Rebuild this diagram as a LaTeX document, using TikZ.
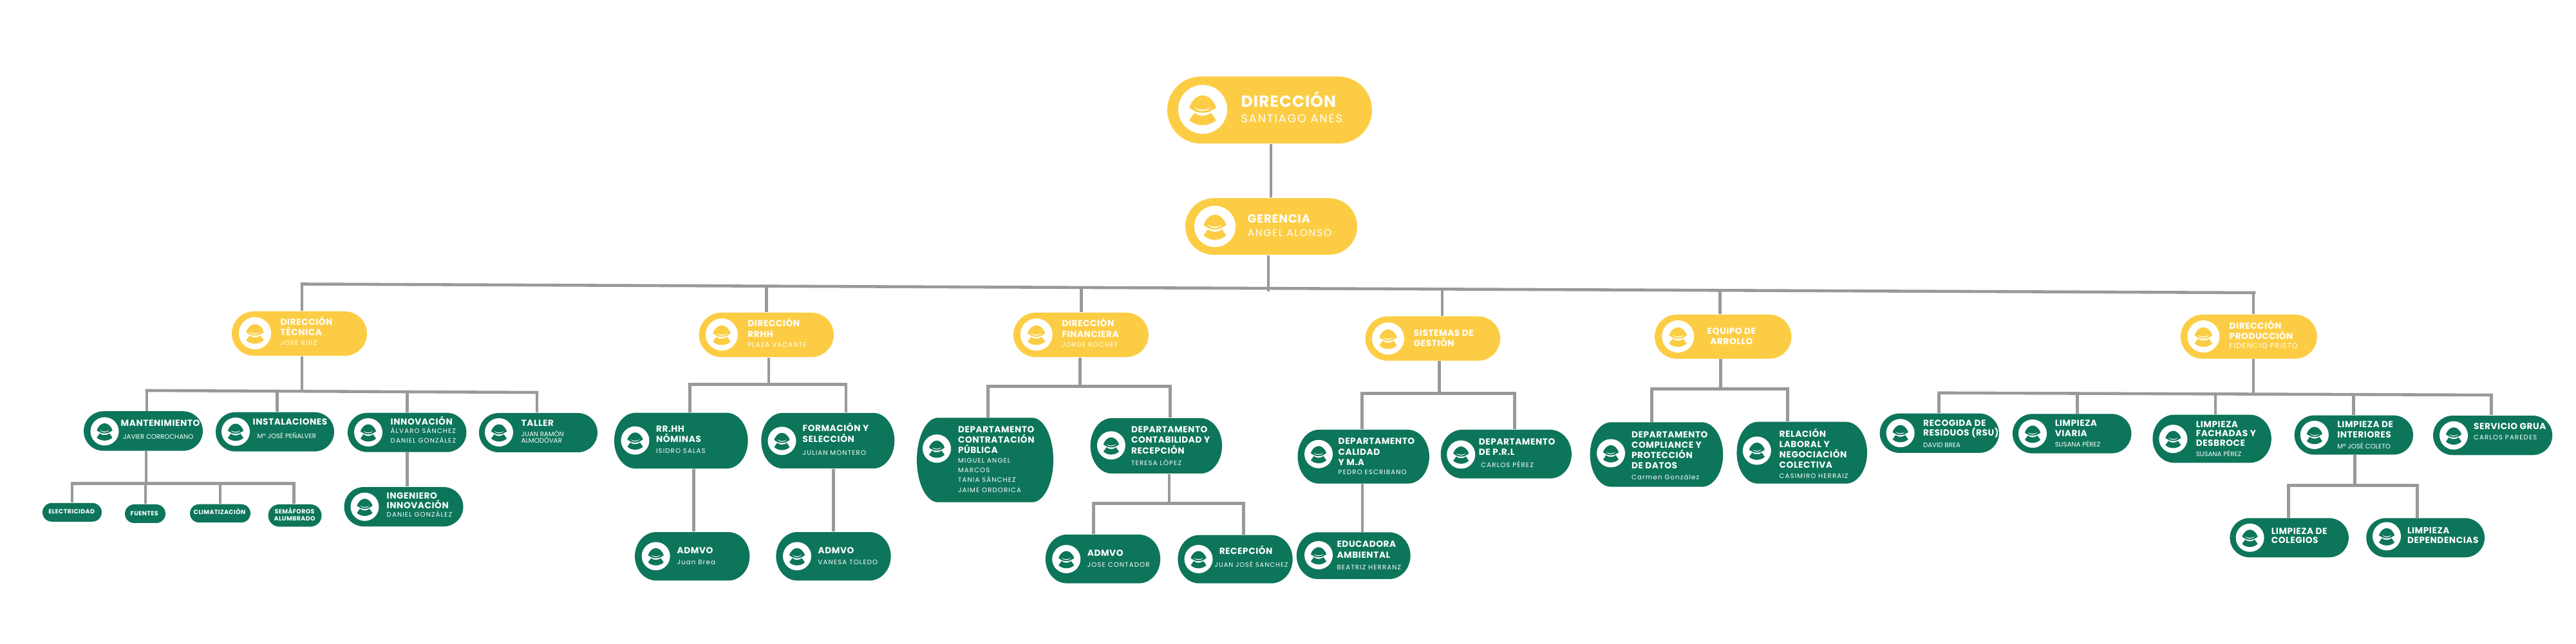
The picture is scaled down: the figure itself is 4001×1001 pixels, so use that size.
\documentclass[tikz,border=0pt]{standalone}
\usepackage{fontspec}
\setmainfont[LetterSpace=4]{Poppins}
\newfontfamily\namefont[LetterSpace=11]{Poppins}
\newfontfamily\tightfont{Poppins}
\newcommand{\nm}[1][2.9]{\namefont\mdseries\fontsize{#1}{#1}\selectfont}
\newcommand{\nmt}{\tightfont\mdseries\fontsize{2.9}{2.9}\selectfont}
\definecolor{orggold}{HTML}{FCCD44}
\definecolor{orggreen}{HTML}{0D755A}
\definecolor{orgwire}{HTML}{999999}
\begin{document}
\begin{tikzpicture}[x=0.01cm, y=-0.01cm,
    wire/.style={draw=orgwire, line width=1.3pt},
    orgbox/.style={rectangle, inner sep=0pt, minimum width=#1},
    lbl/.style={anchor=base west, align=left, inner sep=0pt, text=white, font=\bfseries\fontsize{3.9}{4.6}\selectfont},
    lblsmall/.style={lbl, align=center, font=\bfseries\fontsize{2.7}{3.13}\selectfont},
    worker/.pic={
        \fill[white] (0,0) circle (1);
        \fill[pic actions] (-.55,-.06) .. controls (-.45,-.4) and (-.2,-.57) .. (0,-.57) .. controls (.2,-.57) and (.45,-.4) .. (.55,-.06) -- (.27,.1) .. controls (.1,.16) and (-.1,.16) .. (-.27,.1) -- cycle;
        \fill[white] (-.33,-.1) .. controls (-.25,.12) and (.25,.12) .. (.33,-.1) .. controls (.22,.05) and (-.22,.05) .. (-.33,-.1) -- cycle;
        \fill[pic actions] (-.55,.44) -- (-.34,.14) .. controls (-.15,.3) and (.15,.3) .. (.34,.14) -- (.55,.44) .. controls (.25,.72) and (-.25,.72) .. (-.55,.44) -- cycle;
    }]

    \useasboundingbox (0,0) rectangle (4001,1001);

    % Boxes, yellow
    \foreach \id/\x/\y/\w/\h [evaluate=\h as \ry using {0.5*\h}] in {
        direccion/1972/171/318/104, gerencia/1974.5/352/267/88,
        tecnica/465/518.5/210/69, rrhh/1190.3/520.5/209.3/69,
        financiera/1679/520.5/209.8/69, sistemas/2225.4/526.2/209.5/69,
        equipo/2676.2/523.3/212.4/68.7, produccion/3492.8/523.3/211.9/68.7} {
        \node[orgbox=\w*0.01cm, minimum height=\h*0.01cm] (\id) at (\x,\y) {};
        \fill[orggold] ({\x+0.5*\w-\ry},{\y-\ry}) arc[start angle=-90, delta angle=180, x radius=\ry, y radius=\ry]
            -- ({\x-0.5*\w+\ry},{\y+\ry}) arc[start angle=90, delta angle=180, x radius=\ry, y radius=\ry] -- cycle;
    }

    % Boxes, green
    \foreach \id/\x/\y/\w/\h [evaluate=\h as \ry using {0.5*\h}, evaluate=\h as \rx using {min(0.5*\h,33)}] in {
        mantenimiento/222.5/670/185/61.5, instalaciones/427/671.2/184/61,
        innovacion/632.2/672.2/184.5/61, taller/836/672.5/184/61,
        electricidad/112/796.3/92/29, fuentes/225.5/798.5/63/29,
        climatizacion/342/798/94/28.5, semaforos/458/801.3/83/34.7,
        ingeniero/627/787.7/185/61.3, nominas/1057.8/685/207.7/86.7,
        formacion/1285.8/685/207/86.3, admvoA/1075.2/864.7/178.3/75.3,
        admvoB/1294.5/864.7/178.3/75.3, contratacion/1530/715/212/131.4,
        contabilidad/1795.8/693/204.4/86, admvoC/1713/868.8/178.3/75.7,
        recepcion/1918.5/869.2/178.3/75, calidad/2117.7/709.8/204.4/83.7,
        prl/2339.3/705.8/203.2/75.7, educadora/2102.2/863.7/176.8/72.7,
        compliance/2572.9/706.5/206.6/100.4, relacion/2798.7/703.7/202.6/96,
        recogida/3012.2/673.3/185.2/61.3, viaria/3218.1/674/184.5/61.3,
        fachadas/3435.6/682/184.4/74.6, interiores/3655.8/676.2/184.4/61,
        grua/3871.6/676.7/185.2/61.3, colegios/3555.6/835.8/184.5/61,
        dependencias/3767.1/835.8/183.8/61} {
        \node[orgbox=\w*0.01cm, minimum height=\h*0.01cm] (\id) at (\x,\y) {};
        \fill[orggreen] ({\x+0.5*\w-\rx},{\y-\ry}) arc[start angle=-90, delta angle=180, x radius=\rx, y radius=\ry]
            -- ({\x-0.5*\w+\rx},{\y+\ry}) arc[start angle=90, delta angle=180, x radius=\rx, y radius=\ry] -- cycle;
    }

    % Icons
    \foreach \x/\y/\rad in {1868/170/38, 1887/352/32, 396/518/25, 1121/520/25,
        1609.7/520/25, 2156/526.2/25, 2606.2/523/25, 3422.3/523/25} {
        \pic[scale=\rad, fill=orggold] at (\x,\y) {worker};
    }
    \foreach \x/\y in {162.5/670.5, 366/671, 572/672, 775/672, 566.5/787.7, 986.5/684.7,
        1214.5/685.3, 1018.7/864.5, 1238/864.5, 1455/697.3, 1725.9/692.3, 1656.2/869,
        1861.5/869, 2048/705.8, 2269.2/706.5, 2048/863, 2502/704.5, 2728.8/700.5,
        2951.6/673.2, 3157/674, 3375.3/682.2, 3594.8/676, 3811/676.8, 3494.5/835.8, 3707/833.5} {
        \pic[scale=22, fill=orggreen] at (\x,\y) {worker};
    }

    % Bars
    \foreach \bar/\xa/\ya/\xb/\yb in {main/469/441.5/3501/455, tec/228/607/834/610,
        man/112/751.7/456.6/751.7, rh/1071.3/597.5/1314/597.5, fin/1534.3/600.7/1817.5/600.7,
        con/1698.5/782.5/1931.2/782.5, sis/2115.4/611.7/2352.5/611.7,
        equ/2565.4/604.7/2776.7/604.7, pro/3011.5/610.7/3869.5/614,
        int/3554.5/754.3/3754.4/754.3} {
        \coordinate (\bar L) at (\xa,\ya);
        \coordinate (\bar R) at (\xb,\yb);
        \draw[wire, line cap=rect] (\bar L) -- (\bar R);
    }

    % Lines from a box down to its bar
    \foreach \a/\xx/\yy in {gerencia/1970/452.7, tecnica/469/608.2, mantenimiento/227/751.7,
        rrhh/1194/597.5, financiera/1677.5/600.7, contabilidad/1816/782.5,
        sistemas/2235.4/611.7, equipo/2672.2/604.7, produccion/3499.8/612.3,
        interiores/3657.6/754.3} {
        \coordinate (foot\a) at (\xx,\yy);
        \draw[wire] (foot\a |- \a.south) -- (foot\a);
    }

    % Lines from a bar down to a box
    \foreach \b/\xx/\yy in {tecnica/469/441.5, rrhh/1190.7/444.7, financiera/1679.7/446.9,
        sistemas/2240/449.4, equipo/2671.6/451.3, produccion/3500/455,
        mantenimiento/228/607, instalaciones/430.5/608, innovacion/632.6/609, taller/834/610,
        electricidad/112/751.7, fuentes/226/751.7, climatizacion/342/751.7, semaforos/456.6/751.7,
        nominas/1071.3/597.5, formacion/1314/597.5, contratacion/1534.3/600.7, contabilidad/1817.5/600.7,
        admvoC/1698.5/782.5, recepcion/1931.2/782.5, calidad/2115.4/611.7, prl/2352.5/611.7,
        compliance/2565.4/604.7, relacion/2776.7/604.7,
        recogida/3011.5/610.7, viaria/3226.2/611.5, fachadas/3440.9/612.4, interiores/3655.5/613.2, grua/3869.5/614,
        colegios/3554.5/754.3, dependencias/3754.4/754.3} {
        \coordinate (top\b) at (\xx,\yy);
        \draw[wire] (top\b) -- (top\b |- \b.north);
    }

    % Lines from box to box
    \foreach \a/\b/\xx in {direccion/gerencia/1974, innovacion/ingeniero/632.6,
        nominas/admvoA/1077.3, formacion/admvoB/1294.3, calidad/educadora/2116} {
        \coordinate (link\b) at (\xx,0);
        \draw[wire] (link\b |- \a.south) -- (link\b |- \b.north);
    }

    % Top
    \node[lbl, font=\bfseries\fontsize{7.1}{7.1}\selectfont] (direccionT) at (1927,191) {DIRECCIÓN\\{\nm[5]SANTIAGO ANES}};
    \node[lbl, font=\bfseries\fontsize{5.2}{6}\selectfont] (gerenciaT) at (1937,368) {GERENCIA\\{\nm[4.4]ANGEL ALONSO}};

    % Direcciones
    \node[lbl] (tecnicaT) at (435,537) {DIRECCIÓN\\TÉCNICA\\[-0.3pt]{\nm JOSE RUIZ}};
    \node[lbl] (rrhhT) at (1160.7,539.3) {DIRECCIÓN\\RRHH\\[-0.3pt]{\nm PLAZA VACANTE}};
    \node[lbl] (financieraT) at (1648.8,539.3) {DIRECCIÓN\\FINANCIERA\\[-0.3pt]{\nm JORGE ROCHET}};
    \node[lbl] (sistemasT) at (2195.2,539) {SISTEMAS DE\\GESTIÓN};
    \node[lbl, align=center] (equipoT) at (2651,536) {EQUIPO DE\\ARROLLO};
    \node[lbl] (produccionT) at (3461.9,542) {DIRECCIÓN\\PRODUCCIÓN\\[-0.4pt]{\nm[3.2]FIDENCIO PRIETO}};

    % Tecnica
    \node[lbl] (mantenimientoT) at (187,683) {MANTENIMIENTO\\[1.1pt]{\nmt\hspace*{1pt}JAVIER CORROCHANO}};
    \node[lbl] (instalacionesT) at (392,682) {INSTALACIONES\\[1.65pt]{\nmt\hspace*{2pt}Mº JOSÉ PEÑALVER}};
    \node[lbl] (innovacionT) at (606,689) {INNOVACIÓN\\[-0.8pt]{\nm ÁLVARO SÁNCHEZ}\\[-0.3pt]{\nm DANIEL GONZÁLEZ}};
    \node[lbl] (tallerT) at (809,689) {TALLER\\{\nmt JUAN RAMÓN}\\[-1.75pt]{\nmt ALMODÓVAR}};
    \node[lblsmall] (electricidadT) at (74.6,799) {ELECTRICIDAD};
    \node[lblsmall] (fuentesT) at (202,801) {FUENTES};
    \node[lblsmall] (climatizacionT) at (300,800) {CLIMATIZACIÓN};
    \node[lblsmall] (semaforosT) at (425,810) {SEMÁFOROS\\ALUMBRADO};
    \node[lbl] (ingenieroT) at (600,804) {INGENIERO\\[-0.3pt]INNOVACIÓN\\[-0.8pt]{\nm DANIEL GONZÁLEZ}};

    % RRHH
    \node[lbl] (nominasT) at (1018.3,705) {RR.HH\\NÓMINAS\\[0.3pt]{\nm ISIDRO SALAS}};
    \node[lbl] (formacionT) at (1246,707.3) {FORMACIÓN Y\\SELECCIÓN\\[1.15pt]{\nm JULIAN MONTERO}};
    \node[lbl] (admvoAT) at (1051,877.7) {ADMVO\\[0.4pt]{\nm Juan Brea}};
    \node[lbl] (admvoBT) at (1270,877.7) {ADMVO\\[0.4pt]{\nm VANESA TOLEDO}};

    % Financiera
    \node[lbl] (contratacionT) at (1487.3,765) {DEPARTAMENTO\\CONTRATACIÓN\\PÚBLICA\\[-0.3pt]{\nm MIGUEL ANGEL}\\[-0.3pt]{\nm MARCOS}\\[-0.3pt]{\nm TANIA SÁNCHEZ}\\[-0.3pt]{\nm JAIME ORDORICA}};
    \node[lbl] (contabilidadT) at (1756.3,724) {DEPARTAMENTO\\CONTABILIDAD Y\\RECEPCIÓN\\[0.8pt]{\nm TERESA LÓPEZ}};
    \node[lbl] (admvoCT) at (1688.2,881.7) {ADMVO\\[0.4pt]{\nm JOSE CONTADOR}};
    \node[lbl] (recepcionT) at (1886,881.7) {\hspace*{2pt}RECEPCIÓN\\[1.1pt]{\nm[2.8]JUAN JOSÉ SANCHEZ}};

    % Sistemas
    \node[lbl] (calidadT) at (2078,737.7) {DEPARTAMENTO\\CALIDAD\\Y M.A\\[-0.5pt]{\nm PEDRO ESCRIBANO}};
    \node[lbl] (prlT) at (2296.2,726.7) {DEPARTAMENTO\\DE P.R.L\\[0.9pt]{\nm\hspace*{1pt}CARLOS PÉREZ}};
    \node[lbl] (educadoraT) at (2075.8,885) {EDUCADORA\\AMBIENTAL\\[0.5pt]{\nm BEATRIZ HERRANZ}};

    % Equipo
    \node[lbl] (complianceT) at (2533.3,745) {DEPARTAMENTO\\COMPLIANCE Y\\PROTECCIÓN\\DE DATOS\\{\nm Carmen González}};
    \node[lbl] (relacionT) at (2763,744) {RELACIÓN\\LABORAL Y\\NEGOCIACIÓN\\COLECTIVA\\{\nm CASIMIRO HERRAIZ}};

    % Produccion
    \node[lbl] (recogidaT) at (2986.3,695.3) {RECOGIDA DE\\[-0.3pt]RESIDUOS (RSU)\\[0.5pt]{\nmt DAVID BREA}};
    \node[lbl] (viariaT) at (3191,695) {LIMPIEZA\\[-0.3pt]VIARIA\\[0.2pt]{\nmt SUSANA PÉREZ}};
    \node[lbl] (fachadasT) at (3410,710) {LIMPIEZA\\[-0.6pt]FACHADAS Y\\[-0.3pt]DESBROCE\\{\nmt SUSANA PÉREZ}};
    \node[lbl] (interioresT) at (3629.6,698) {LIMPIEZA DE\\INTERIORES\\[0.3pt]{\nmt Mª JOSÉ COLETO}};
    \node[lbl] (gruaT) at (3841.4,684) {SERVICIO GRUA\\{\nm CARLOS PAREDES}};
    \node[lbl] (colegiosT) at (3527.1,844.7) {LIMPIEZA DE\\[-0.6pt]COLEGIOS};
    \node[lbl] (dependenciasT) at (3738.3,844) {LIMPIEZA\\[-0.6pt]DEPENDENCIAS};

\end{tikzpicture}
\end{document}
